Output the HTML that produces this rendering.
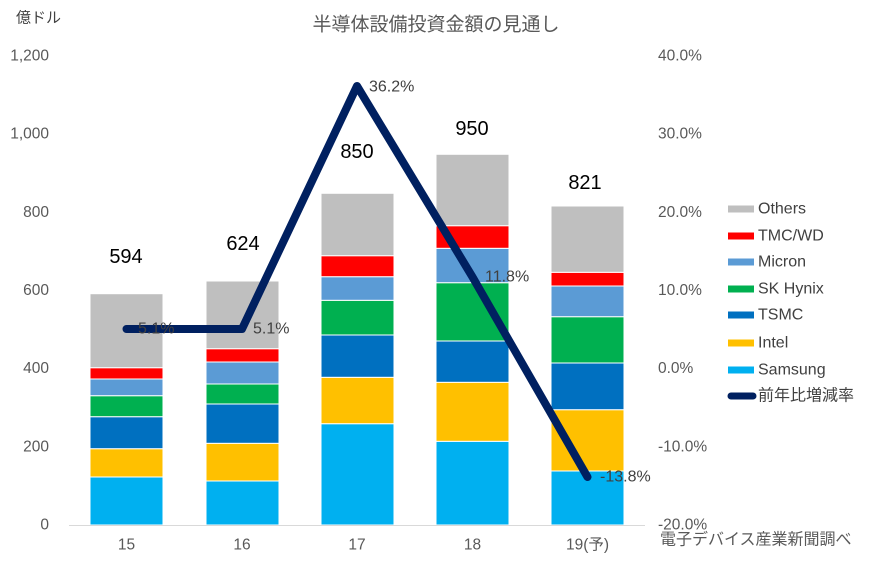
<!DOCTYPE html>
<html><head><meta charset="utf-8">
<style>
html,body{margin:0;padding:0;background:#fff;}
svg{display:block;}
text{font-family:"Liberation Sans","Noto Sans CJK JP",sans-serif;}
</style></head>
<body>
<svg width="870" height="564" viewBox="0 0 870 564" xmlns="http://www.w3.org/2000/svg">
<rect width="870" height="564" fill="#fff"/>
<!-- title -->
<text x="436" y="25" text-anchor="middle" dominant-baseline="central" font-size="19" fill="#595959">半導体設備投資金額の見通し</text>
<text x="16" y="18" dominant-baseline="central" font-size="15" fill="#404040">億ドル</text>

<!-- left ticks -->
<g font-size="15.5" fill="#595959" text-anchor="end" dominant-baseline="central">
<text x="49" y="56">1,200</text>
<text x="49" y="134.2">1,000</text>
<text x="49" y="212.3">800</text>
<text x="49" y="290.5">600</text>
<text x="49" y="368.7">400</text>
<text x="49" y="446.8">200</text>
<text x="49" y="525">0</text>
</g>
<!-- right ticks -->
<g font-size="15.5" fill="#595959" dominant-baseline="central">
<text x="658" y="56">40.0%</text>
<text x="658" y="134.2">30.0%</text>
<text x="658" y="212.3">20.0%</text>
<text x="658" y="290.5">10.0%</text>
<text x="658" y="368.7">0.0%</text>
<text x="658" y="446.8">-10.0%</text>
<text x="658" y="525">-20.0%</text>
</g>

<!-- bars -->
<g stroke="#ffffff" stroke-width="1">
<!-- 15 -->
<rect x="90" y="477" width="73" height="48" fill="#00b0f0"/>
<rect x="90" y="448.7" width="73" height="28.3" fill="#ffc000"/>
<rect x="90" y="416.7" width="73" height="32" fill="#0070c0"/>
<rect x="90" y="395.7" width="73" height="21" fill="#00b050"/>
<rect x="90" y="379" width="73" height="16.7" fill="#5b9bd5"/>
<rect x="90" y="367.7" width="73" height="11.3" fill="#ff0000"/>
<rect x="90" y="293.7" width="73" height="74" fill="#bfbfbf"/>
<!-- 16 -->
<rect x="206" y="481" width="73" height="44" fill="#00b0f0"/>
<rect x="206" y="443.3" width="73" height="37.7" fill="#ffc000"/>
<rect x="206" y="404" width="73" height="39.3" fill="#0070c0"/>
<rect x="206" y="384" width="73" height="20" fill="#00b050"/>
<rect x="206" y="362" width="73" height="22" fill="#5b9bd5"/>
<rect x="206" y="348.7" width="73" height="13.3" fill="#ff0000"/>
<rect x="206" y="281" width="73" height="67.7" fill="#bfbfbf"/>
<!-- 17 -->
<rect x="321" y="423.7" width="73" height="101.3" fill="#00b0f0"/>
<rect x="321" y="377.3" width="73" height="46.4" fill="#ffc000"/>
<rect x="321" y="335" width="73" height="42.3" fill="#0070c0"/>
<rect x="321" y="300.3" width="73" height="34.7" fill="#00b050"/>
<rect x="321" y="276.7" width="73" height="23.6" fill="#5b9bd5"/>
<rect x="321" y="255.7" width="73" height="21" fill="#ff0000"/>
<rect x="321" y="193.3" width="73" height="62.4" fill="#bfbfbf"/>
<!-- 18 -->
<rect x="436" y="441.3" width="73" height="83.7" fill="#00b0f0"/>
<rect x="436" y="382.3" width="73" height="59" fill="#ffc000"/>
<rect x="436" y="341" width="73" height="41.3" fill="#0070c0"/>
<rect x="436" y="282.7" width="73" height="58.3" fill="#00b050"/>
<rect x="436" y="248.3" width="73" height="34.4" fill="#5b9bd5"/>
<rect x="436" y="225.7" width="73" height="22.6" fill="#ff0000"/>
<rect x="436" y="154.3" width="73" height="71.4" fill="#bfbfbf"/>
<!-- 19 -->
<rect x="551" y="471" width="73" height="54" fill="#00b0f0"/>
<rect x="551" y="409.7" width="73" height="61.3" fill="#ffc000"/>
<rect x="551" y="363" width="73" height="46.7" fill="#0070c0"/>
<rect x="551" y="316.7" width="73" height="46.3" fill="#00b050"/>
<rect x="551" y="286" width="73" height="30.7" fill="#5b9bd5"/>
<rect x="551" y="272.3" width="73" height="13.7" fill="#ff0000"/>
<rect x="551" y="206" width="73" height="66.3" fill="#bfbfbf"/>
</g>

<!-- x axis -->
<line x1="69" y1="525.5" x2="645" y2="525.5" stroke="#d9d9d9" stroke-width="1"/>
<g font-size="15.5" fill="#595959" text-anchor="middle" dominant-baseline="central">
<text x="126.5" y="545">15</text>
<text x="242" y="545">16</text>
<text x="357" y="545">17</text>
<text x="472.5" y="545">18</text>
<text x="587.5" y="545">19(予)</text>
</g>
<text x="660" y="540" dominant-baseline="central" font-size="16" fill="#595959">電子デバイス産業新聞調べ</text>

<!-- totals -->
<g font-size="20" fill="#000" text-anchor="middle" dominant-baseline="central">
<text x="126" y="257">594</text>
<text x="243" y="244">624</text>
<text x="357" y="152">850</text>
<text x="472" y="129">950</text>
<text x="585" y="183">821</text>
</g>

<!-- line -->
<polyline points="126.5,329 242,329 357,86 472.5,277 587.5,477" fill="none" stroke="#002060" stroke-width="8" stroke-linejoin="round" stroke-linecap="round"/>

<!-- line labels -->
<g font-size="16" fill="#404040" dominant-baseline="central">
<text x="138" y="329">5.1%</text>
<text x="253" y="329">5.1%</text>
<text x="369" y="87">36.2%</text>
<text x="485" y="277">11.8%</text>
<text x="600" y="477">-13.8%</text>
</g>

<!-- legend -->
<g>
<rect x="728" y="205.5" width="26" height="7" fill="#bfbfbf"/>
<rect x="728" y="232.5" width="26" height="7" fill="#ff0000"/>
<rect x="728" y="258.5" width="26" height="7" fill="#5b9bd5"/>
<rect x="728" y="285.5" width="26" height="7" fill="#00b050"/>
<rect x="728" y="311.5" width="26" height="7" fill="#0070c0"/>
<rect x="728" y="339.5" width="26" height="7" fill="#ffc000"/>
<rect x="728" y="366.5" width="26" height="7" fill="#00b0f0"/>
<line x1="731" y1="396" x2="753" y2="396" stroke="#002060" stroke-width="7" stroke-linecap="round"/>
</g>
<g font-size="16" fill="#404040" dominant-baseline="central">
<text x="758" y="209">Others</text>
<text x="758" y="236">TMC/WD</text>
<text x="758" y="262">Micron</text>
<text x="758" y="289">SK Hynix</text>
<text x="758" y="315">TSMC</text>
<text x="758" y="343">Intel</text>
<text x="758" y="370">Samsung</text>
<text x="758" y="396">前年比増減率</text>
</g>
</svg>
</body></html>
